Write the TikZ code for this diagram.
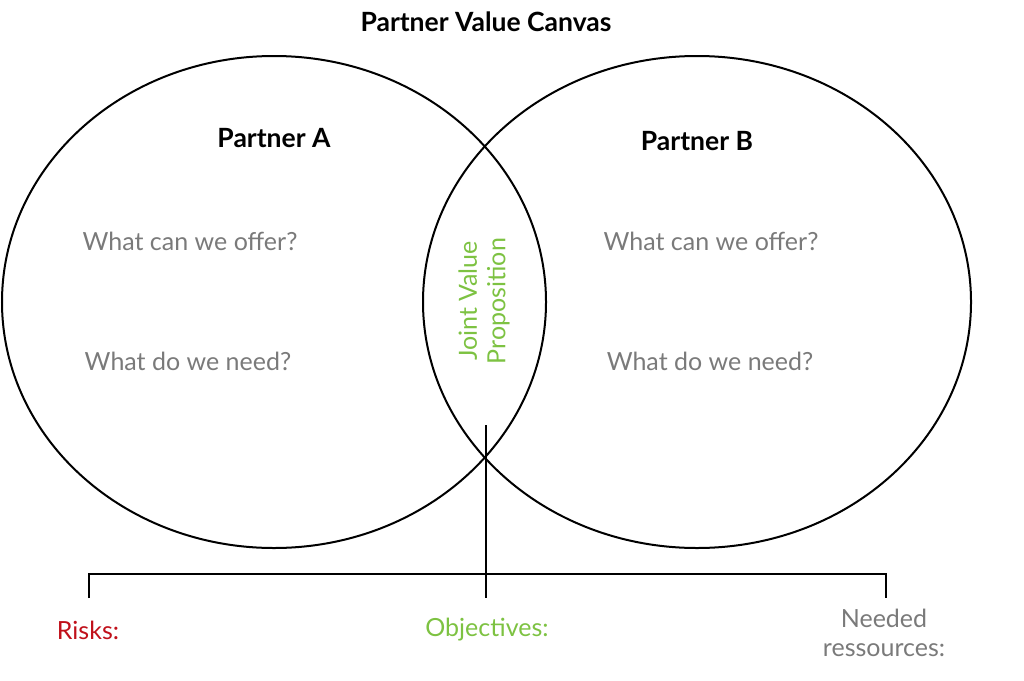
\documentclass[tikz,border=0pt]{standalone}
\usepackage{fontspec}
\setmainfont{Lato}
\usetikzlibrary{shapes.geometric}
\definecolor{txtgray}{HTML}{7A7A7A}
\definecolor{jvgreen}{HTML}{7DC242}
\definecolor{riskred}{HTML}{C0101A}
\begin{document}
\begin{tikzpicture}[x=1pt,y=-1pt,
  circ/.style={draw=black,line width=2pt,ellipse,inner sep=0pt,minimum width=544pt,minimum height=492pt},
  heading/.style={font=\fontsize{26.5}{30}\selectfont\bfseries,text=black},
  question/.style={font=\fontsize{25}{30}\selectfont,text=txtgray},
  label/.style={font=\fontsize{25}{28.5}\selectfont,align=center},
  connector/.style={draw=black,line width=2pt}]
\useasboundingbox (0,0) rectangle (1024,680);
\node[heading] (title) at (486,22) {Partner Value Canvas};
\node[circ] (left) at (274,302) {};
\node[circ,minimum width=548pt] (right) at (697,302) {};
\node[heading] (pa) at (274,138) {Partner A};
\node[heading] (pb) at (697,141) {Partner B};
\node[question] (qa1) at (190,241) {What can we offer?};
\node[question] (qa2) at (188,361) {What do we need?};
\node[question] (qb1) at (711,241) {What can we offer?};
\node[question] (qb2) at (710,361) {What do we need?};
\node[label,text=jvgreen,rotate=90] (jvp) at (484,301) {Joint Value\\Proposition};
\coordinate (stemtop) at (486,425);
\coordinate (stembot) at (486,598);
\coordinate (bl) at (89,574);
\coordinate (br) at (886,574);
\coordinate (bld) at (89,598);
\coordinate (brd) at (886,598);
\draw[connector] (stemtop) -- (stembot);
\draw[connector] (bld) -- (bl) -- (br) -- (brd);
\node[label,text=riskred] (risks) at (88,630) {Risks:};
\node[label,text=jvgreen] (obj) at (487,630) {Objectives:};
\node[label,text=txtgray] (need) at (884,633) {Needed\\ressources:};
\end{tikzpicture}
\end{document}
